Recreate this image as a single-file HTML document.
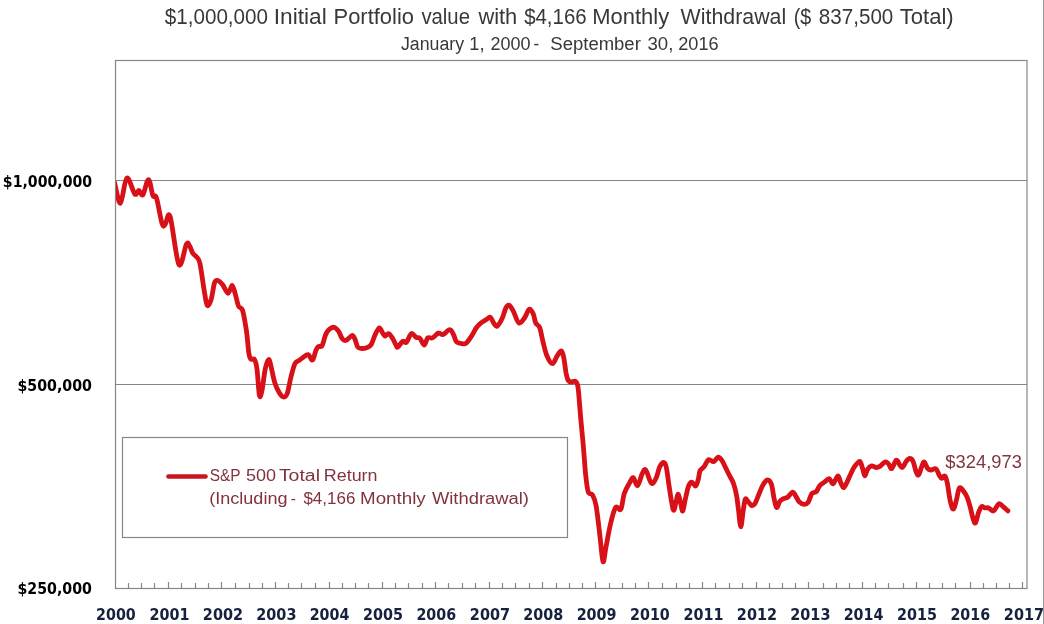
<!DOCTYPE html>
<html><head><meta charset="utf-8"><title>Portfolio chart</title>
<style>
html,body{margin:0;padding:0;background:#fff;}
body{width:1044px;height:624px;overflow:hidden;position:relative;}
svg{display:block;position:absolute;left:0;top:0;}
text{white-space:pre;}
.t1{font-family:"Liberation Sans",sans-serif;font-size:22px;fill:#383838;}
.t2{font-family:"Liberation Sans",sans-serif;font-size:18px;fill:#383838;}
.yl{font-family:"DejaVu Sans",sans-serif;font-size:15.5px;font-weight:bold;fill:#000;}
.xl{font-family:"DejaVu Sans",sans-serif;font-size:15.5px;font-weight:bold;fill:#15213d;}
.lg{font-family:"Liberation Sans",sans-serif;font-size:16px;fill:#82323c;}
.dl{font-family:"Liberation Sans",sans-serif;font-size:18px;fill:#84343f;}
</style></head>
<body>
<svg width="1044" height="624" viewBox="0 0 1044 624">
<rect x="0" y="0" width="1044" height="624" fill="#fff"/>
<line x1="1043.5" y1="0" x2="1043.5" y2="624" stroke="#9a9a9a" stroke-width="1"/>
<path d="M115.5,180.5H1027M115.5,384.5H1027" stroke="#868686" stroke-width="1" fill="none"/>
<rect x="115.5" y="60.5" width="911.5" height="528" fill="none" stroke="#868686" stroke-width="1.2"/>
<path d="M128.5,588V583M141.5,588V583M154.5,588V583M168.5,588V582M181.5,588V583M195.5,588V583M208.5,588V583M221.5,588V582M235.5,588V583M249.5,588V583M262.5,588V583M275.5,588V582M288.5,588V583M301.5,588V583M315.5,588V583M329.5,588V582M342.5,588V583M355.5,588V583M368.5,588V583M382.5,588V582M395.5,588V583M408.5,588V583M422.5,588V583M435.5,588V582M448.5,588V583M462.5,588V583M475.5,588V583M489.5,588V582M502.5,588V583M515.5,588V583M529.5,588V583M542.5,588V582M556.5,588V583M569.5,588V583M582.5,588V583M595.5,588V582M609.5,588V583M622.5,588V583M635.5,588V583M648.5,588V582M662.5,588V583M676.5,588V583M689.5,588V583M702.5,588V582M715.5,588V583M729.5,588V583M742.5,588V583M756.5,588V582M769.5,588V583M782.5,588V583M795.5,588V583M808.5,588V582M823.5,588V583M836.5,588V583M849.5,588V583M862.5,588V582M875.5,588V583M888.5,588V583M903.5,588V583M916.5,588V582M929.5,588V583M942.5,588V583M955.5,588V583M970.5,588V582M983.5,588V583M996.5,588V583M1009.5,588V583M1022.5,588V582" stroke="#868686" stroke-width="1.2" fill="none"/>
<rect x="122.5" y="437.5" width="445" height="100" fill="#fff" stroke="#868686" stroke-width="1.2"/>
<line x1="168.5" y1="476.5" x2="205.5" y2="476.5" stroke="#c8161c" stroke-width="4.6" stroke-linecap="round"/>
<text class="yl" y="186.7"><tspan x="2.86" textLength="89.28" lengthAdjust="spacingAndGlyphs">$1,000,000</tspan></text>
<text class="yl" y="390.8"><tspan x="17.46" textLength="74.53" lengthAdjust="spacingAndGlyphs">$500,000</tspan></text>
<text class="yl" y="593.7"><tspan x="17.46" textLength="74.53" lengthAdjust="spacingAndGlyphs">$250,000</tspan></text>
<text class="xl" y="619.8"><tspan x="96.05" textLength="39.74" lengthAdjust="spacingAndGlyphs">2000</tspan> <tspan x="149.44" textLength="39.98" lengthAdjust="spacingAndGlyphs">2001</tspan> <tspan x="202.83" textLength="40.23" lengthAdjust="spacingAndGlyphs">2002</tspan> <tspan x="256.23" textLength="40.23" lengthAdjust="spacingAndGlyphs">2003</tspan> <tspan x="309.65" textLength="39.74" lengthAdjust="spacingAndGlyphs">2004</tspan> <tspan x="363.04" textLength="39.98" lengthAdjust="spacingAndGlyphs">2005</tspan> <tspan x="416.45" textLength="39.74" lengthAdjust="spacingAndGlyphs">2006</tspan> <tspan x="469.83" textLength="40.23" lengthAdjust="spacingAndGlyphs">2007</tspan> <tspan x="523.24" textLength="39.98" lengthAdjust="spacingAndGlyphs">2008</tspan> <tspan x="576.64" textLength="39.98" lengthAdjust="spacingAndGlyphs">2009</tspan> <tspan x="630.05" textLength="39.74" lengthAdjust="spacingAndGlyphs">2010</tspan> <tspan x="683.44" textLength="39.98" lengthAdjust="spacingAndGlyphs">2011</tspan> <tspan x="736.83" textLength="40.23" lengthAdjust="spacingAndGlyphs">2012</tspan> <tspan x="790.23" textLength="40.23" lengthAdjust="spacingAndGlyphs">2013</tspan> <tspan x="843.65" textLength="39.74" lengthAdjust="spacingAndGlyphs">2014</tspan> <tspan x="897.04" textLength="39.98" lengthAdjust="spacingAndGlyphs">2015</tspan> <tspan x="950.45" textLength="39.74" lengthAdjust="spacingAndGlyphs">2016</tspan> <tspan x="1003.83" textLength="40.23" lengthAdjust="spacingAndGlyphs">2017</tspan></text>
<text class="t1" y="23.5"><tspan x="164.77" textLength="103.24" lengthAdjust="spacingAndGlyphs">$1,000,000</tspan> <tspan x="273.84" textLength="52.86" lengthAdjust="spacingAndGlyphs">Initial</tspan> <tspan x="333.56" textLength="80.41" lengthAdjust="spacingAndGlyphs">Portfolio</tspan> <tspan x="421.40" textLength="48.58" lengthAdjust="spacingAndGlyphs">value</tspan> <tspan x="478.40" textLength="38.87" lengthAdjust="spacingAndGlyphs">with</tspan> <tspan x="524.17" textLength="62.47" lengthAdjust="spacingAndGlyphs">$4,166</tspan> <tspan x="592.25" textLength="76.89" lengthAdjust="spacingAndGlyphs">Monthly</tspan> <tspan x="680.60" textLength="105.57" lengthAdjust="spacingAndGlyphs">Withdrawal</tspan> <tspan x="793.78" textLength="17.50" lengthAdjust="spacingAndGlyphs">($</tspan> <tspan x="818.86" textLength="74.47" lengthAdjust="spacingAndGlyphs">837,500</tspan> <tspan x="899.70" textLength="54.00" lengthAdjust="spacingAndGlyphs">Total)</tspan></text>
<text class="t2" y="49.5"><tspan x="400.95" textLength="63.09" lengthAdjust="spacingAndGlyphs">January</tspan> <tspan x="469.33" textLength="15.20" lengthAdjust="spacingAndGlyphs">1,</tspan> <tspan x="490.55" textLength="40.00" lengthAdjust="spacingAndGlyphs">2000</tspan> <tspan x="533.58" textLength="5.73" lengthAdjust="spacingAndGlyphs">-</tspan> <tspan x="550.33" textLength="90.49" lengthAdjust="spacingAndGlyphs">September</tspan> <tspan x="647.53" textLength="25.86" lengthAdjust="spacingAndGlyphs">30,</tspan> <tspan x="678.24" textLength="40.36" lengthAdjust="spacingAndGlyphs">2016</tspan></text>
<text class="lg" y="481.2"><tspan x="209.68" textLength="30.55" lengthAdjust="spacingAndGlyphs">S&amp;P</tspan> <tspan x="245.96" textLength="30.05" lengthAdjust="spacingAndGlyphs">500</tspan> <tspan x="278.90" textLength="41.08" lengthAdjust="spacingAndGlyphs">Total</tspan> <tspan x="323.80" textLength="53.75" lengthAdjust="spacingAndGlyphs">Return</tspan></text>
<text class="lg" y="504.2"><tspan x="209.27" textLength="78.21" lengthAdjust="spacingAndGlyphs">(Including</tspan> <tspan x="290.79" textLength="5.06" lengthAdjust="spacingAndGlyphs">-</tspan> <tspan x="303.43" textLength="51.89" lengthAdjust="spacingAndGlyphs">$4,166</tspan> <tspan x="360.03" textLength="65.70" lengthAdjust="spacingAndGlyphs">Monthly</tspan> <tspan x="431.90" textLength="97.11" lengthAdjust="spacingAndGlyphs">Withdrawal)</tspan></text>
<text class="dl" y="468.3"><tspan x="945.35" textLength="76.50" lengthAdjust="spacingAndGlyphs">$324,973</tspan></text>
<defs><clipPath id="pc"><rect x="116" y="61" width="911" height="527"/></clipPath></defs>
<path clip-path="url(#pc)" d="M114.5,182.5 C115.5,185.9 118.4,203.9 120.4,203.2 C122.5,202.4 124.4,179.5 126.8,178.0 C129.2,176.5 132.8,191.9 134.8,194.0 C136.8,196.1 137.5,190.4 138.8,190.5 C140.2,190.6 141.3,196.6 142.9,194.8 C144.5,193.0 146.8,179.5 148.5,179.6 C150.2,179.7 151.6,192.5 152.9,195.6 C154.2,198.7 155.0,193.3 156.5,198.0 C158.0,202.7 160.6,219.3 162.1,223.7 C163.6,228.1 164.0,225.7 165.3,224.5 C166.6,223.3 167.8,209.8 170.1,216.5 C172.4,223.2 176.2,260.0 178.9,264.6 C181.6,269.2 184.6,247.2 186.4,244.1 C188.2,241.0 188.5,244.5 189.6,246.0 C190.7,247.5 191.6,251.3 192.8,253.2 C194.0,255.1 195.6,255.4 196.8,257.2 C198.0,258.9 198.8,258.3 200.0,263.7 C201.2,269.1 202.8,282.4 204.0,289.3 C205.2,296.2 206.0,303.7 207.2,305.3 C208.4,306.9 210.1,302.6 211.3,298.9 C212.5,295.2 213.4,286.0 214.5,282.9 C215.6,279.8 216.4,280.2 217.7,280.5 C219.0,280.8 220.8,282.4 222.5,284.5 C224.2,286.6 226.5,293.2 228.1,293.3 C229.7,293.4 230.9,285.2 232.1,285.3 C233.3,285.4 234.2,290.6 235.3,294.1 C236.4,297.6 237.3,303.4 238.5,306.1 C239.7,308.8 241.3,306.8 242.5,310.1 C243.7,313.5 244.9,321.7 245.7,326.2 C246.5,330.7 246.7,332.4 247.2,336.9 C247.7,341.3 248.2,349.2 248.8,352.9 C249.4,356.6 249.8,358.0 250.8,359.1 C251.8,360.2 253.6,357.9 254.6,359.6 C255.6,361.3 256.2,363.3 257.0,369.2 C257.8,375.1 258.6,391.5 259.4,395.2 C260.2,398.9 260.8,395.6 261.8,391.3 C262.8,387.0 264.1,374.5 265.2,369.2 C266.3,363.9 267.6,360.1 268.6,359.6 C269.6,359.1 270.0,362.5 271.0,366.3 C272.0,370.1 273.4,378.2 274.8,382.7 C276.2,387.2 278.1,390.9 279.6,393.3 C281.1,395.7 282.6,397.1 283.9,397.1 C285.2,397.1 286.1,396.8 287.3,393.3 C288.5,389.8 289.9,381.0 291.2,376.0 C292.5,371.0 293.7,366.1 295.0,363.5 C296.3,360.9 297.5,361.6 298.8,360.6 C300.1,359.6 301.1,358.7 302.7,357.7 C304.3,356.7 306.6,354.3 308.2,354.7 C309.8,355.1 311.2,360.7 312.5,360.0 C313.8,359.3 314.9,352.6 315.9,350.4 C316.9,348.1 317.3,347.3 318.3,346.5 C319.3,345.7 320.9,347.5 322.1,345.6 C323.3,343.7 324.4,337.6 325.5,335.0 C326.6,332.4 327.4,331.0 328.8,329.7 C330.2,328.4 332.5,327.1 334.1,327.3 C335.7,327.6 337.1,329.3 338.5,331.2 C339.9,333.1 341.0,337.3 342.3,338.8 C343.6,340.3 344.6,340.9 346.2,340.3 C347.8,339.8 350.5,335.8 351.9,335.5 C353.3,335.2 353.8,336.9 354.8,338.8 C355.8,340.7 356.6,345.4 357.7,347.0 C358.8,348.6 359.9,348.4 361.5,348.5 C363.1,348.6 365.7,348.1 367.3,347.5 C368.9,346.9 369.9,346.7 371.2,344.6 C372.5,342.5 373.6,337.8 375.0,335.0 C376.4,332.2 378.0,328.1 379.3,327.8 C380.6,327.5 381.7,331.7 382.7,333.1 C383.7,334.5 384.1,335.9 385.1,336.0 C386.1,336.1 387.3,333.3 388.5,333.6 C389.7,333.9 391.0,335.9 392.3,337.9 C393.6,339.9 395.3,344.1 396.2,345.6 C397.1,347.1 396.8,347.7 397.9,347.0 C399.0,346.3 401.3,342.1 402.7,341.3 C404.1,340.5 405.1,343.5 406.5,342.2 C407.9,340.9 409.7,334.4 411.3,333.6 C412.9,332.8 414.8,336.6 416.2,337.4 C417.6,338.2 418.6,337.1 420.0,338.4 C421.4,339.7 423.0,345.2 424.3,345.1 C425.6,345.0 426.3,339.1 427.7,337.9 C429.1,336.7 430.7,338.7 432.5,337.9 C434.3,337.1 436.5,333.7 438.3,333.1 C440.1,332.5 441.2,335.1 443.1,334.5 C445.0,333.9 448.0,329.6 449.8,329.7 C451.6,329.8 452.6,333.0 453.7,335.0 C454.8,337.0 455.1,340.2 456.5,341.7 C457.9,343.1 460.7,343.4 462.3,343.7 C463.9,343.9 464.8,344.3 466.2,343.2 C467.6,342.1 469.2,339.5 471.0,336.9 C472.8,334.2 474.9,329.7 476.7,327.3 C478.4,324.9 479.9,323.8 481.5,322.5 C483.1,321.2 484.9,320.5 486.3,319.6 C487.8,318.7 488.9,316.6 490.2,317.2 C491.5,317.8 492.8,322.0 494.0,323.5 C495.2,325.0 495.9,326.9 497.2,326.1 C498.5,325.3 500.5,321.9 502.0,318.8 C503.5,315.7 504.8,309.9 506.0,307.6 C507.2,305.3 508.0,304.7 509.2,305.2 C510.4,305.7 511.6,307.9 513.2,310.8 C514.8,313.8 516.9,321.7 518.8,322.9 C520.7,324.1 522.8,320.3 524.5,318.0 C526.2,315.7 527.8,309.9 529.3,309.2 C530.8,308.5 532.2,311.7 533.3,314.0 C534.4,316.3 534.6,320.6 535.7,322.9 C536.8,325.2 538.5,324.6 539.7,327.7 C540.9,330.8 541.7,336.6 542.9,341.3 C544.1,346.0 545.3,352.0 546.9,355.7 C548.5,359.4 550.8,363.7 552.5,363.7 C554.2,363.7 555.8,357.8 557.3,355.7 C558.8,353.6 560.2,350.6 561.3,350.9 C562.4,351.2 562.9,353.6 563.7,357.3 C564.5,361.0 565.4,369.5 566.1,373.3 C566.9,377.1 567.3,378.9 568.2,380.4 C569.1,381.8 570.2,381.9 571.4,382.0 C572.6,382.1 574.3,380.5 575.4,381.2 C576.5,381.9 577.1,382.5 577.8,386.0 C578.5,389.5 578.9,396.1 579.4,402.0 C579.9,407.9 580.3,413.8 581.0,421.3 C581.7,428.8 582.6,438.1 583.4,446.9 C584.2,455.7 584.8,466.6 585.6,474.1 C586.4,481.6 587.0,488.2 588.2,491.7 C589.4,495.2 591.3,492.8 592.6,495.2 C593.9,497.6 594.9,499.3 596.1,505.8 C597.3,512.3 598.6,524.7 599.7,534.0 C600.9,543.3 602.0,559.1 603.0,561.5 C604.0,563.9 604.6,554.1 605.8,548.1 C607.0,542.1 608.6,532.0 610.2,525.2 C611.8,518.5 613.7,510.2 615.5,507.6 C617.3,505.0 619.3,511.7 620.8,509.3 C622.3,506.9 622.8,497.9 624.3,493.5 C625.8,489.1 628.1,485.5 629.6,482.9 C631.1,480.2 631.8,477.2 633.1,477.6 C634.4,478.1 636.1,486.2 637.6,485.6 C639.1,485.0 640.7,476.8 642.0,474.1 C643.3,471.5 644.1,468.6 645.5,469.7 C646.9,470.8 648.9,478.6 650.1,480.9 C651.3,483.2 651.6,484.1 652.7,483.5 C653.8,482.9 655.3,479.9 656.5,477.1 C657.7,474.3 658.5,469.3 659.7,466.8 C660.9,464.3 662.5,462.3 663.6,462.3 C664.7,462.3 665.4,463.3 666.2,466.8 C667.1,470.3 667.9,477.9 668.7,483.5 C669.6,489.1 670.4,495.6 671.3,500.1 C672.1,504.6 672.9,510.4 673.8,510.4 C674.6,510.4 675.6,502.8 676.4,500.1 C677.1,497.4 677.5,493.8 678.3,494.4 C679.0,495.0 680.1,501.2 680.9,504.0 C681.6,506.8 682.0,511.9 682.8,511.0 C683.5,510.1 684.4,503.0 685.4,498.8 C686.4,494.6 687.5,488.8 688.6,486.0 C689.7,483.2 690.6,482.2 691.8,482.2 C693.0,482.2 694.5,486.4 695.6,486.0 C696.7,485.6 697.5,482.2 698.2,479.6 C699.0,477.0 699.1,472.7 700.1,470.6 C701.1,468.5 702.6,468.6 704.0,466.8 C705.4,465.0 706.9,460.6 708.5,459.7 C710.1,458.8 712.0,462.1 713.6,461.7 C715.2,461.3 716.7,457.4 718.1,457.2 C719.5,457.0 720.6,458.6 721.9,460.4 C723.2,462.2 724.5,465.5 725.8,468.1 C727.1,470.7 728.3,473.2 729.6,475.8 C730.9,478.4 732.3,480.1 733.5,483.5 C734.7,486.9 735.9,491.9 736.7,496.3 C737.5,500.7 737.8,504.9 738.5,510.0 C739.2,515.1 740.0,526.8 740.8,526.8 C741.6,526.8 742.5,514.7 743.3,510.1 C744.0,505.5 744.5,500.7 745.3,499.2 C746.0,497.7 746.7,500.1 747.8,501.2 C748.9,502.3 750.5,505.2 751.7,505.6 C752.9,506.0 753.7,505.5 754.9,503.7 C756.1,501.9 757.3,497.9 758.7,494.7 C760.1,491.5 761.7,486.9 763.2,484.5 C764.7,482.1 766.3,480.0 767.7,480.0 C769.1,480.0 770.4,481.4 771.5,484.5 C772.6,487.6 773.2,494.8 774.1,498.6 C775.0,502.5 775.7,507.2 776.7,507.6 C777.7,508.0 778.7,502.7 779.9,501.2 C781.1,499.7 782.4,499.2 783.7,498.6 C785.0,498.0 786.1,498.4 787.6,497.3 C789.1,496.2 791.2,492.2 792.7,492.2 C794.2,492.2 795.4,495.7 796.5,497.3 C797.6,498.9 797.8,500.6 799.1,501.8 C800.4,503.0 802.7,504.3 804.2,504.4 C805.7,504.5 806.8,504.2 808.1,502.4 C809.4,500.6 810.5,495.3 811.9,493.5 C813.3,491.7 815.1,492.8 816.4,491.5 C817.7,490.2 818.2,487.4 819.6,485.8 C821.0,484.2 823.1,483.1 824.7,481.9 C826.3,480.7 827.8,478.4 829.2,478.7 C830.6,479.0 831.7,484.3 833.1,483.8 C834.5,483.3 836.6,476.1 837.9,475.9 C839.2,475.7 839.8,480.6 840.7,482.6 C841.6,484.6 842.5,487.7 843.5,487.7 C844.5,487.7 845.6,484.9 846.8,482.6 C848.0,480.3 849.5,476.4 850.8,473.7 C852.1,471.0 853.2,468.5 854.7,466.4 C856.2,464.3 858.4,461.0 859.7,461.3 C861.0,461.6 861.6,465.7 862.5,468.1 C863.4,470.5 863.9,475.7 864.8,475.9 C865.6,476.1 866.5,470.9 867.6,469.2 C868.7,467.5 870.1,466.1 871.5,465.8 C872.9,465.5 874.6,467.4 876.0,467.5 C877.4,467.6 878.4,467.3 879.9,466.4 C881.4,465.5 883.6,462.4 885.0,461.9 C886.4,461.4 887.3,462.5 888.4,463.6 C889.5,464.7 890.4,469.2 891.7,468.6 C893.0,468.0 894.9,460.9 896.2,460.2 C897.5,459.5 898.6,463.5 899.6,464.7 C900.6,465.9 901.3,468.1 902.4,467.5 C903.5,466.9 905.1,462.8 906.3,461.3 C907.5,459.8 908.6,458.5 909.7,458.5 C910.8,458.5 911.9,459.0 913.0,461.3 C914.1,463.6 915.4,470.2 916.4,472.5 C917.4,474.8 917.8,475.9 918.7,474.8 C919.6,473.7 921.1,468.0 922.0,465.8 C922.9,463.6 923.4,461.5 924.3,461.9 C925.2,462.3 926.3,466.8 927.4,468.2 C928.5,469.6 929.6,469.9 931.0,470.0 C932.4,470.1 934.4,467.9 935.8,468.8 C937.2,469.7 938.4,473.8 939.4,475.4 C940.4,477.0 940.9,478.3 941.8,478.4 C942.7,478.5 943.9,475.3 944.8,476.0 C945.7,476.7 946.3,478.5 947.2,482.6 C948.1,486.7 949.2,496.3 950.2,500.7 C951.2,505.1 952.2,509.1 953.2,509.1 C954.2,509.1 955.3,504.2 956.3,500.7 C957.3,497.2 958.1,489.7 959.3,488.1 C960.5,486.5 962.2,489.6 963.5,491.1 C964.8,492.6 966.0,494.5 967.1,497.1 C968.2,499.7 969.1,503.1 970.1,506.7 C971.1,510.3 972.2,516.0 973.1,518.7 C974.0,521.4 974.6,523.9 975.5,522.9 C976.4,521.9 977.5,515.4 978.5,512.7 C979.5,510.0 980.4,507.5 981.5,506.7 C982.6,505.9 983.9,507.7 985.1,507.9 C986.3,508.1 987.3,507.4 988.7,507.9 C990.1,508.4 991.8,511.6 993.5,510.9 C995.2,510.2 997.3,504.4 998.9,503.7 C1000.5,503.0 1001.6,505.5 1003.1,506.7 C1004.6,507.9 1007.1,510.2 1007.9,510.9" fill="none" stroke="#d81018" stroke-width="4.8" stroke-linejoin="round" stroke-linecap="round"/>
</svg>
</body></html>
